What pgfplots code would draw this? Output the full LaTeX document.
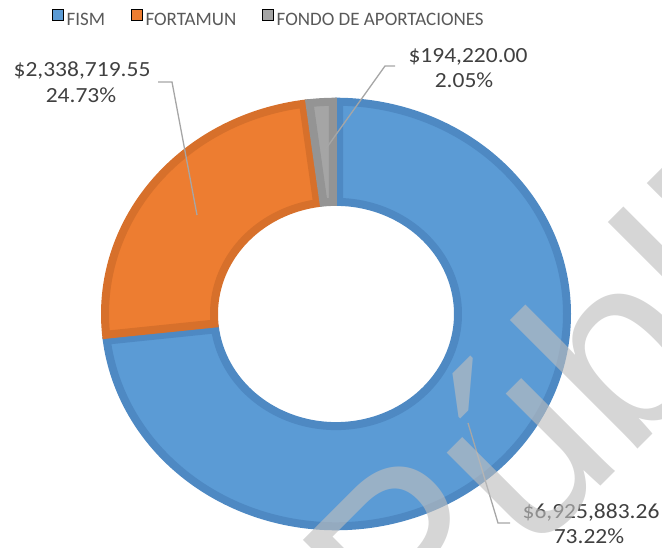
\documentclass[border=0pt]{standalone}
\usepackage{fontspec}
\setmainfont{Carlito}[FakeStretch=1.088]
\newfontfamily\legfont{Carlito}
\newfontfamily\wmfont{Liberation Sans}
\usepackage{pgfplots}
\pgfplotsset{compat=1.18}
\usepackage{pgfplotstable}

\definecolor{fism}{HTML}{5B9BD5}
\definecolor{fismd}{HTML}{4E89C3}
\definecolor{fort}{HTML}{ED7D31}
\definecolor{fortd}{HTML}{D7702B}
\definecolor{fondo}{HTML}{A5A5A5}
\definecolor{fondod}{HTML}{949494}
\definecolor{txt}{HTML}{404040}
\definecolor{leg}{HTML}{595959}
\definecolor{leader}{HTML}{A6A6A6}
\definecolor{wmgray}{RGB}{190,190,190}

\pgfplotstableread{
name value pct
FISM 6925883.26 73.22
FORTAMUN 2338719.55 24.73
FONDO 194220.00 2.05
}\data

\pgfplotstablegetelem{0}{value}\of\data \edef\vA{\pgfplotsretval}
\pgfplotstablegetelem{1}{value}\of\data \edef\vB{\pgfplotsretval}
\pgfplotstablegetelem{2}{value}\of\data \edef\vC{\pgfplotsretval}
\edef\tot{\fpeval{\vA+\vB+\vC}}
\edef\aZ{90}
\edef\aA{\fpeval{90-360*\vA/\tot}}
\edef\aB{\fpeval{\aA-360*\vB/\tot}}
\edef\aC{\fpeval{\aB-360*\vC/\tot}}

% one ring segment, clockwise from #1 to #2 (degrees); path closes in the middle of the outer arc
% samples step h = 1/120
\newcommand\seg[4]{%
  \pgfmathsetmacro\So{#1-0.8}\pgfmathsetmacro\Eo{#2+0.8}%
  \pgfmathsetmacro\Si{#1-1.5}\pgfmathsetmacro\Ei{#2+1.5}%
  \pgfmathsetmacro\Mo{(\So+\Eo)/2}%
  \addplot[forget plot, fill=#3, draw=#4, line width=8bp, samples=361, domain=0:3, variable=\t]
    ({336+((\t<1.004)?231:((\t<2.004)?122:231))*cos((\t<1.004)?(\Mo+(\Eo-\Mo)*\t):((\t<2.004)?(\Ei+(\Si-\Ei)*(\t-1.0083333)/0.9916667):(\So+(\Mo-\So)*(\t-2.0083333)/0.9916667)))},
     {234+0.919*((\t<1.004)?231:((\t<2.004)?122:231))*sin((\t<1.004)?(\Mo+(\Eo-\Mo)*\t):((\t<2.004)?(\Ei+(\Si-\Ei)*(\t-1.0083333)/0.9916667):(\So+(\Mo-\So)*(\t-2.0083333)/0.9916667)))});
}

\newcommand\lab{\fontsize{21.6bp}{25bp}\selectfont}

\begin{document}
\begin{tikzpicture}
\useasboundingbox (0,0) rectangle (662bp,548bp);
\clip (0,0) rectangle (662bp,548bp);
\begin{axis}[
  at={(0,0)}, anchor=south west,
  scale only axis, width=662bp, height=548bp,
  xmin=0, xmax=662, ymin=0, ymax=548,
  hide axis, clip=false,
  legend image code/.code={\fill[#1] (0bp,-1bp) rectangle (11bp,10bp);},
  legend style={at={(axis cs:268,530)}, anchor=center, draw=none, fill=none,
    legend columns=3, font=\legfont\fontsize{19bp}{21bp}\selectfont, text=leg,
    nodes={inner sep=0pt},
    /tikz/every odd column/.style={column sep=3bp},
    /tikz/every even column/.style={column sep=26bp}},
]
\seg{\aZ}{\aA}{fism}{fismd}
\seg{\aA}{\aB}{fort}{fortd}
\seg{\aB}{\aC}{fondo}{fondod}

\addlegendimage{fill=fism}\addlegendentry{FISM}
\addlegendimage{fill=fort}\addlegendentry{FORTAMUN}
\addlegendimage{fill=fondo}\addlegendentry{FONDO DE APORTACIONES}

\addplot[forget plot, leader, line width=1.3bp] coordinates {(158,466) (172,466) (197,333)};
\addplot[forget plot, leader, line width=1.3bp] coordinates {(395,482) (385,482) (325,398)};
\addplot[forget plot, leader, line width=1.3bp] coordinates {(468,125) (498,25) (510,25)};

\node[anchor=base, font=\lab, text=txt] at (axis cs:82,471) {\$2,338,719.55};
\node[anchor=base, font=\lab, text=txt] at (axis cs:81,445) {24.73\%};
\node[anchor=base, font=\lab, text=txt] at (axis cs:468,485) {\$194,220.00};
\node[anchor=base, font=\lab, text=txt] at (axis cs:464,460) {2.05\%};
\node[anchor=base, font=\lab, text=txt] at (axis cs:591,30) {\$6,925,883.26};
\node[anchor=base, font=\lab, text=txt] at (axis cs:589,5) {73.22\%};

\node[rotate=45, anchor=base west, inner sep=0pt, text=wmgray, opacity=0.63,
      font=\wmfont\fontsize{250bp}{250bp}\selectfont] at (axis cs:410,-129) {Pública};
\end{axis}
\end{tikzpicture}
\end{document}
